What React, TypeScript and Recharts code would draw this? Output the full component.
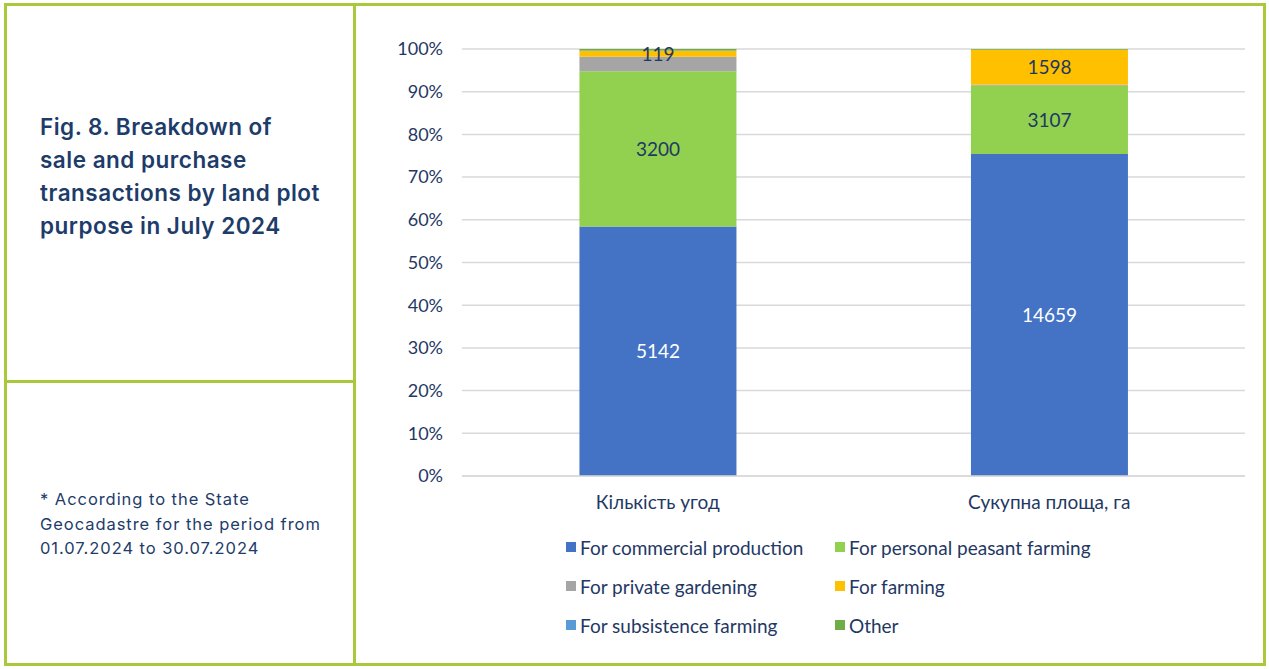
import { BarChart, Bar, XAxis, YAxis, CartesianGrid, LabelList } from 'recharts';

const categories = ['Кількість угод', 'Сукупна площа, га'];
const commercial = [5142, 14659];
const personalPeasant = [3200, 3107];
const privateGardening = [300, 40];
const farming = [119, 1598];
const subsistence = [10, 0];
const other = [30, 30];

const yTicks = [0, 0.1, 0.2, 0.3, 0.4, 0.5, 0.6, 0.7, 0.8, 0.9, 1];

const series = [
  { key: 'commercial', name: 'For commercial production', color: '#4472C4', label: '#ffffff' },
  { key: 'personalPeasant', name: 'For personal peasant farming', color: '#92D050', label: '#1F3864' },
  { key: 'privateGardening', name: 'For private gardening', color: '#A5A5A5', label: null },
  { key: 'farming', name: 'For farming', color: '#FFC000', label: '#1F3864' },
  { key: 'subsistence', name: 'For subsistence farming', color: '#5B9BD5', label: null },
  { key: 'other', name: 'Other', color: '#70AD47', label: null },
];

const data = categories.map((name, i) => ({
  name,
  commercial: commercial[i],
  personalPeasant: personalPeasant[i],
  privateGardening: privateGardening[i],
  farming: farming[i],
  subsistence: subsistence[i],
  other: other[i],
}));

const BORDER = '#A9C93A';
const NAVY = '#1F3864';
const FONT = 'Lato, "Open Sans", sans-serif';

const LegendBox = () => (
  <div
    style={{
      display: 'grid',
      gridTemplateColumns: '269px 280px',
      rowGap: 17,
      fontFamily: FONT,
      fontSize: 19,
      color: NAVY,
    }}
  >
    {series.map(s => (
      <div key={s.key} style={{ display: 'flex', alignItems: 'center', height: 22, whiteSpace: 'nowrap' }}>
        <span style={{ width: 10, height: 10, background: s.color, marginRight: 4, display: 'inline-block' }} />
        {s.name}
      </div>
    ))}
  </div>
);

export default function App() {
  return (
    <div style={{ position: 'absolute', left: 0, top: 0, width: 1269, height: 669, background: '#fff' }}>
      {/* frame */}
      <div style={{ position: 'absolute', left: 4, top: 3, width: 1262, height: 663, border: `3px solid ${BORDER}`, boxSizing: 'border-box' }} />
      <div style={{ position: 'absolute', left: 353, top: 3, width: 3, height: 663, background: BORDER }} />
      <div style={{ position: 'absolute', left: 4, top: 380, width: 350, height: 3, background: BORDER }} />

      {/* left panel */}
      <div
        style={{
          position: 'absolute',
          left: 40,
          top: 110,
          width: 315,
          fontFamily: 'Inter, sans-serif',
          fontWeight: 600,
          fontSize: 22.5,
          lineHeight: '33px',
          letterSpacing: 0.5,
          color: '#1D3C6A',
          whiteSpace: 'nowrap',
        }}
      >
        Fig. 8. Breakdown of
        <br />
        sale and purchase
        <br />
        transactions by land plot
        <br />
        purpose in July 2024
      </div>
      <div
        style={{
          position: 'absolute',
          left: 40,
          top: 487,
          width: 315,
          fontFamily: 'Inter, sans-serif',
          fontSize: 16.5,
          lineHeight: '24.5px',
          letterSpacing: 0.95,
          color: '#1D3C6A',
          whiteSpace: 'nowrap',
        }}
      >
        * According to the State
        <br />
        Geocadastre for the period from
        <br />
        01.07.2024 to 30.07.2024
      </div>

      {/* chart */}
      <div style={{ position: 'absolute', left: 357, top: 0 }}>
        <BarChart
          width={905}
          height={669}
          data={data}
          stackOffset="expand"
          barCategoryGap="30%"
          margin={{ top: 49, right: 17, bottom: 0, left: 0 }}
        >
          <CartesianGrid vertical={false} stroke="#D9D9D9" strokeWidth={1.5} />
          <XAxis
            dataKey="name"
            height={193}
            tickLine={false}
            axisLine={{ stroke: '#D9D9D9', strokeWidth: 1.5 }}
            tick={{ fill: NAVY, fontSize: 19, fontFamily: FONT }}
            tickMargin={14}
          />
          <YAxis
            width={105}
            ticks={yTicks}
            domain={[0, 1]}
            tickFormatter={(v: number) => `${Math.round(v * 100)}%`}
            tickLine={false}
            axisLine={false}
            tickMargin={13}
            tick={{ fill: NAVY, fontSize: 18, fontFamily: FONT }}
          />
          {series.map(s => (
            <Bar key={s.key} dataKey={s.key} name={s.name} stackId="a" fill={s.color} isAnimationActive={false}>
              {s.label && (
                <LabelList
                  dataKey={s.key}
                  position="center"
                  fill={s.label}
                  fontSize={19}
                  fontFamily={FONT}
                />
              )}
            </Bar>
          ))}
        </BarChart>
      </div>

      {/* legend */}
      <div style={{ position: 'absolute', left: 566, top: 536 }}>
        <LegendBox />
      </div>
    </div>
  );
}
